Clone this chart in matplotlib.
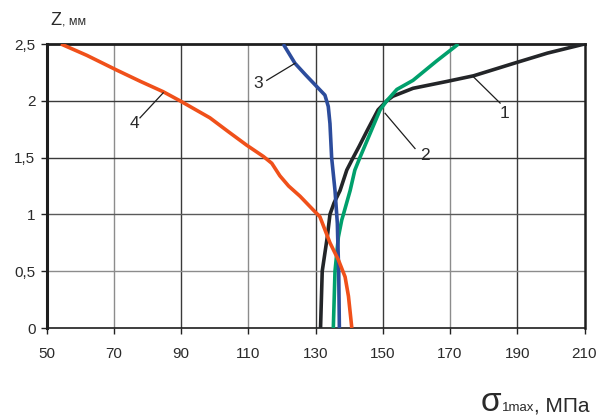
import matplotlib
matplotlib.use("Agg")
import matplotlib.pyplot as plt

plt.rcParams['font.family'] = ['Liberation Sans', 'DejaVu Sans']

# Stress profiles: sigma_1max (MPa) versus depth z (mm)
s1 = [131.5, 131.8, 132.0, 132.8, 133.5, 134.3, 135.5, 137.3, 139.3, 141.2, 143.0,
      145.4, 148.6, 151.2, 153.0, 159.0, 169.0, 177.0, 189.0, 199.0, 210.0]
z1 = [0.0, 0.3, 0.5, 0.66, 0.8, 1.0, 1.1, 1.21, 1.39, 1.5, 1.6,
      1.74, 1.92, 2.0, 2.04, 2.11, 2.17, 2.22, 2.33, 2.42, 2.5]

s2 = [135.3, 135.6, 135.8, 136.3, 136.8, 137.8, 138.3, 140.3, 141.7, 143.2, 146.2,
      149.2, 151.2, 154.2, 159.0, 166.0, 172.5]
z2 = [0.0, 0.3, 0.5, 0.65, 0.8, 0.95, 1.0, 1.21, 1.39, 1.5, 1.71,
      1.92, 2.0, 2.1, 2.18, 2.35, 2.5]

s3 = [137.1, 136.9, 136.6, 136.5, 135.8, 134.8, 134.3, 133.8, 133.2, 132.8, 129.9,
      127.0, 123.9, 120.4]
z3 = [0.0, 0.5, 0.8, 0.92, 1.21, 1.5, 1.8, 1.95, 2.01, 2.05, 2.14,
      2.23, 2.33, 2.5]

s4 = [140.8, 139.8, 138.8, 136.8, 134.3, 133.0, 131.3, 129.3, 125.4, 122.0, 119.4,
      117.0, 114.5, 109.5, 104.0, 98.6, 89.7, 84.7, 78.0, 70.9, 62.0, 54.3]
z4 = [0.0, 0.28, 0.45, 0.6, 0.75, 0.85, 0.98, 1.04, 1.16, 1.25, 1.34,
      1.45, 1.51, 1.61, 1.73, 1.85, 2.0, 2.08, 2.17, 2.27, 2.4, 2.5]

x_ticks = [50, 70, 90, 110, 130, 150, 170, 190, 210]
y_ticks = [0, 0.5, 1, 1.5, 2, 2.5]
y_tick_labels = ['0', '0,5', '1', '1,5', '2', '2,5']

# curve number labels: (text, text position, leader start, leader end)
curve_labels = [
    ('1', (186.3, 1.89), (184.9, 1.98), (177.0, 2.21)),
    ('2', (162.6, 1.52), (159.6, 1.58), (150.7, 1.89)),
    ('3', (113.0, 2.15), (115.5, 2.18), (123.9, 2.33)),
    ('4', (76.3, 1.80), (77.8, 1.85), (84.7, 2.07)),
]

W, H = 605, 419
fig = plt.figure(figsize=(W / 100, H / 100), dpi=100)
ax = fig.add_axes([46.5 / W, (H - 328) / H, (584.5 - 46.5) / W, (328 - 44) / H])

ax.set_xlim(50, 210)
ax.set_ylim(0, 2.5)
ax.set_xticks(x_ticks)
ax.set_xticklabels([str(v) for v in x_ticks])
ax.set_yticks(y_ticks)
ax.set_yticklabels(y_tick_labels)

# grid lines, alternating darker and lighter grey
dark, light = '#3a3a3a', '#8c8c8c'
vcol = {70: light, 90: dark, 110: light, 130: dark, 150: dark, 170: light, 190: dark}
for v, c in vcol.items():
    ax.axvline(v, color=c, lw=1.0, zorder=1)
hcol = {0.5: light, 1.0: '#5a5a5a', 1.5: dark, 2.0: dark}
for v, c in hcol.items():
    ax.axhline(v, color=c, lw=1.0, zorder=1)

for name, sp in ax.spines.items():
    sp.set_color('#1e1e1e')
ax.spines['left'].set_linewidth(2.2)
ax.spines['top'].set_linewidth(2.0)
ax.spines['right'].set_linewidth(1.8)
ax.spines['bottom'].set_linewidth(1.2)

ax.tick_params(axis='both', direction='out', length=4, width=1.0, color='#222222',
               labelsize=11, labelcolor='#2a2a2a')
ax.tick_params(axis='x', pad=10)
ax.tick_params(axis='y', pad=4)

lw = 2.6
ax.plot(s1, z1, color='#232528', lw=lw, zorder=3, solid_capstyle='butt')
ax.plot(s2, z2, color='#00a06c', lw=lw, zorder=3, solid_capstyle='butt')
ax.plot(s3, z3, color='#2c4c9c', lw=lw, zorder=4, solid_capstyle='butt')
ax.plot(s4, z4, color='#f0501a', lw=lw, zorder=5, solid_capstyle='butt')

for txt, tpos, p0, p1 in curve_labels:
    ax.plot([p0[0], p1[0]], [p0[1], p1[1]], color='#1e1e1e', lw=0.9, zorder=6)
    ax.text(tpos[0], tpos[1], txt, fontsize=12.5, color='#2a2a2a',
            ha='center', va='center', zorder=6)

renderer = fig.canvas.get_renderer()


def text_run(x_px, y_px, parts):
    """Draw consecutive text pieces on one baseline, starting at pixel x_px."""
    x = x_px
    for s, size, gap in parts:
        t = fig.text(x / W, 1 - y_px / H, s, fontsize=size, color='#2a2a2a',
                     ha='left', va='baseline')
        bb = t.get_window_extent(renderer)
        x = bb.x1 + gap


# axis titles
text_run(50, 25, [('Z', 13, 1), (', мм', 9, 0)])
text_run(481, 411, [('σ', 24, 0), ('1max', 9.5, 0), (', МПа', 15, 0)])

fig.savefig('out.png', dpi=100)
